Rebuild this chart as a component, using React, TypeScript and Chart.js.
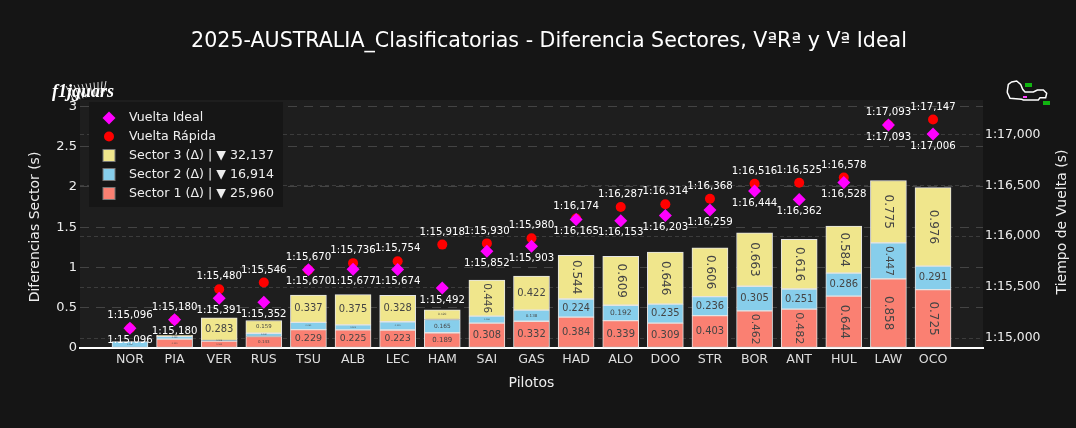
import React, { useEffect, useRef } from "react";
import { Chart, registerables } from "chart.js";

Chart.register(...registerables);

const pilots = ["NOR", "PIA", "VER", "RUS", "TSU", "ALB", "LEC", "HAM", "SAI", "GAS", "HAD", "ALO", "DOO", "STR", "BOR", "ANT", "HUL", "LAW", "OCO"];
const sector1 = [0, 0.11, 0.085, 0.143, 0.229, 0.225, 0.223, 0.189, 0.308, 0.332, 0.384, 0.339, 0.309, 0.403, 0.462, 0.482, 0.644, 0.858, 0.725];
const sector2 = [0.08, 0.035, 0.008, 0.04, 0.09, 0.062, 0.103, 0.165, 0.088, 0.138, 0.224, 0.192, 0.235, 0.236, 0.305, 0.251, 0.286, 0.447, 0.291];
const sector3 = [0, 0.012, 0.283, 0.159, 0.337, 0.375, 0.328, 0.12, 0.446, 0.422, 0.544, 0.609, 0.646, 0.606, 0.663, 0.616, 0.584, 0.775, 0.976];
const fastLap = [75.096, 75.18, 75.48, 75.546, 75.67, 75.736, 75.754, 75.918, 75.93, 75.98, 76.174, 76.287, 76.314, 76.368, 76.516, 76.525, 76.578, 77.093, 77.147];
const idealLap = [75.096, 75.18, 75.391, 75.352, 75.67, 75.677, 75.674, 75.492, 75.852, 75.903, 76.165, 76.153, 76.203, 76.259, 76.444, 76.362, 76.528, 77.093, 77.006];
const deltaTicks = [0, 0.5, 1, 1.5, 2, 2.5, 3];
const lapTicks = [75, 75.5, 76, 76.5, 77];
const legendNames = ["Vuelta Ideal", "Vuelta Rápida", "Sector 3 (Δ) | ▼ 32,137", "Sector 2 (Δ) | ▼ 16,914", "Sector 1 (Δ) | ▼ 25,960"];
const chartTitle = "2025-AUSTRALIA_Clasificatorias - Diferencia Sectores, VªRª y Vª Ideal";

const FONT = "'DejaVu Sans', sans-serif";
const fmtLap = (v: number) => {
  const ms = Math.round(v * 1000);
  const m = Math.floor(ms / 60000);
  const s = Math.floor((ms % 60000) / 1000);
  const r = ms % 1000;
  return `${m}:${String(s).padStart(2, "0")},${String(r).padStart(3, "0")}`;
};

const trackPath = [[22, 45], [25, 25], [35, 18], [50, 15], [62, 25], [68, 40], [75, 48], [100, 48], [112, 42], [130, 42], [140, 52], [137, 65], [120, 65], [115, 72], [90, 72], [70, 72], [65, 70], [30, 67], [22, 50], [22, 45]];

const decorPlugin = {
  id: "decor",
  beforeDraw(chart: any) {
    const { ctx, chartArea: a, width, height } = chart;
    ctx.save();
    ctx.fillStyle = "#151515";
    ctx.fillRect(0, 0, width, height);
    ctx.fillStyle = "#1e1e1e";
    ctx.fillRect(a.left, a.top, a.right - a.left, a.bottom - a.top);

    // title
    ctx.fillStyle = "#ffffff";
    ctx.font = `20.6px ${FONT}`;
    ctx.textAlign = "center";
    ctx.textBaseline = "middle";
    ctx.fillText(chartTitle, 549, 42);

    // axis titles
    ctx.font = `14px ${FONT}`;
    ctx.fillStyle = "#eeeeee";
    ctx.save();
    ctx.translate(1062, 222);
    ctx.rotate(-Math.PI / 2);
    ctx.fillText("Tiempo de Vuelta (s)", 0, 0);
    ctx.restore();
    ctx.save();
    ctx.translate(35, 227);
    ctx.rotate(-Math.PI / 2);
    ctx.fillText("Diferencias Sector (s)", 0, 0);
    ctx.restore();

    // left logo
    ctx.strokeStyle = "#dddddd";
    ctx.lineWidth = 1;
    for (let i = 0; i < 11; i++) {
      ctx.beginPath();
      ctx.moveTo(74 + i * 3, 101 - i * 0.9);
      ctx.lineTo(66 + i * 4, 86 - i * 0.5);
      ctx.stroke();
    }
    ctx.fillStyle = "#ffffff";
    ctx.font = `italic bold 18px 'Liberation Serif', serif`;
    ctx.textAlign = "left";
    ctx.fillText("f1jguars", 52, 92, 75);

    // track logo
    ctx.strokeStyle = "#ffffff";
    ctx.lineWidth = 1.5;
    ctx.beginPath();
    trackPath.forEach(([x, y], i) => {
      const px = 1000 + x / 3;
      const py = 76 + y / 3;
      if (i) ctx.lineTo(px, py);
      else ctx.moveTo(px, py);
    });
    ctx.stroke();
    ctx.fillStyle = "#11b511";
    ctx.fillRect(1025, 83, 7, 4);
    ctx.fillRect(1043, 101, 7, 4);
    ctx.fillStyle = "#ff44ff";
    ctx.fillRect(1023, 96, 4, 2);
    ctx.restore();
  },
  afterDatasetsDraw(chart: any) {
    const { ctx } = chart;
    ctx.save();
    ctx.textAlign = "center";
    ctx.textBaseline = "middle";

    // bar labels, fitted to the bar in the same way as the reference
    [0, 1, 2].forEach((dsIndex) => {
      const ds = chart.data.datasets[dsIndex];
      chart.getDatasetMeta(dsIndex).data.forEach((bar: any, i: number) => {
        const v = ds.data[i].y;
        if (!v) return;
        const label = v.toFixed(3);
        const h = Math.abs(bar.base - bar.y);
        ctx.font = `12px ${FONT}`;
        const tw = ctx.measureText(label).width;
        const th = 15;
        const availW = 28.5;
        const availH = Math.max(h - 6, 1);
        const sH = Math.min(1, availW / tw, availH / th);
        const sR = Math.min(1, availH / tw, availW / th);
        const rotated = sR > sH;
        const size = Math.max(12 * (rotated ? sR : sH), 2);
        ctx.save();
        ctx.translate(bar.x, (bar.base + bar.y) / 2);
        if (rotated) ctx.rotate(Math.PI / 2);
        ctx.font = `${size}px ${FONT}`;
        ctx.fillStyle = "#444444";
        ctx.fillText(label, 0, 0);
        ctx.restore();
      });
    });

    // lap labels
    ctx.font = `10.2px ${FONT}`;
    ctx.fillStyle = "#ffffff";
    [
      { idx: 3, dy: 12 },
      { idx: 4, dy: -12.5 },
    ].forEach(({ idx, dy }) => {
      const ds = chart.data.datasets[idx];
      chart.getDatasetMeta(idx).data.forEach((pt: any, i: number) => {
        ctx.fillText(fmtLap(ds.data[i].y), pt.x, pt.y + dy);
      });
    });

    // legend
    ctx.fillStyle = "#161616";
    ctx.fillRect(89, 102, 194, 105);
    const rows = [118, 136.5, 155.5, 174.5, 193.5];
    const byLegend = [3, 4, 2, 1, 0];
    rows.forEach((y, r) => {
      const ds = chart.data.datasets[byLegend[r]];
      const x = 109;
      ctx.fillStyle = ds.backgroundColor;
      if (r === 0) {
        ctx.beginPath();
        ctx.moveTo(x, y - 6.5);
        ctx.lineTo(x + 6.5, y);
        ctx.lineTo(x, y + 6.5);
        ctx.lineTo(x - 6.5, y);
        ctx.closePath();
        ctx.fill();
      } else if (r === 1) {
        ctx.beginPath();
        ctx.arc(x, y, 5, 0, Math.PI * 2);
        ctx.fill();
      } else {
        ctx.fillRect(x - 6, y - 6, 12, 12);
        ctx.strokeStyle = "#777777";
        ctx.lineWidth = 1;
        ctx.strokeRect(x - 6, y - 6, 12, 12);
      }
      ctx.fillStyle = "#eeeeee";
      ctx.textAlign = "left";
      ctx.font = `12.6px ${FONT}`;
      ctx.fillText(ds.label, 129, y);
    });
    ctx.restore();
  },
};

export default function App() {
  const ref = useRef<HTMLCanvasElement | null>(null);
  useEffect(() => {
    document.body.style.margin = "0";
    document.body.style.background = "#151515";
    const toPts = (arr: number[]) => arr.map((y, x) => ({ x, y }));
    const barBase = {
      type: "bar",
      yAxisID: "y",
      xAxisID: "x",
      stack: "s",
      barThickness: 36,
      borderColor: "#e4e4e4",
      borderWidth: 1,
      borderSkipped: false,
      order: 5,
    };
    const chart = new Chart(ref.current as HTMLCanvasElement, {
      type: "bar",
      plugins: [decorPlugin],
      data: {
        datasets: [
          { ...barBase, label: legendNames[4], data: toPts(sector1), backgroundColor: "#fa8072" },
          { ...barBase, label: legendNames[3], data: toPts(sector2), backgroundColor: "#87ceeb" },
          { ...barBase, label: legendNames[2], data: toPts(sector3), backgroundColor: "#f0e68c" },
          {
            type: "line", label: legendNames[0], data: toPts(idealLap), yAxisID: "y2", xAxisID: "x", showLine: false,
            backgroundColor: "#ff00ff", borderColor: "#ff00ff", pointStyle: "rectRot", pointRadius: 6.5, pointBorderWidth: 0, order: 1,
          },
          {
            type: "line", label: legendNames[1], data: toPts(fastLap), yAxisID: "y2", xAxisID: "x", showLine: false,
            backgroundColor: "#ff0000", borderColor: "#ff0000", pointStyle: "circle", pointRadius: 5, pointBorderWidth: 0, order: 2,
          },
        ] as any,
      },
      options: {
        responsive: false,
        animation: false,
        devicePixelRatio: 1,
        layout: { padding: { top: 100, left: 0, right: 0, bottom: 0 } },
        plugins: { legend: { display: false }, title: { display: false }, tooltip: { enabled: false } },
        scales: {
          x: {
            type: "linear",
            stacked: true,
            offset: false,
            min: -1.12,
            max: 19.12,
            afterBuildTicks: (s: any) => { s.ticks = pilots.map((_, i) => ({ value: i })); },
            afterFit: (s: any) => { s.height = 80; },
            grid: { display: false, drawTicks: false },
            border: { display: true, color: "#ffffff", width: 2 },
            ticks: {
              autoSkip: false, maxRotation: 0, padding: 4,
              color: "#dddddd", font: { family: FONT, size: 12.6 },
              callback: (v: any) => pilots[v],
            },
            title: { display: true, text: "Pilotos", color: "#eeeeee", font: { family: FONT, size: 14 }, padding: { top: 0, bottom: 36 } },
          },
          y: {
            position: "left",
            stacked: true,
            min: 0,
            max: 3.08,
            afterBuildTicks: (s: any) => { s.ticks = deltaTicks.map((value) => ({ value })); },
            afterFit: (s: any) => { s.width = 80; },
            grid: { color: "#444444", lineWidth: 1, drawTicks: false },
            border: { display: false, dash: [9, 7] },
            ticks: { color: "#eeeeee", padding: 3, font: { family: FONT, size: 13 }, callback: (v: any) => String(v) },
          },
          y2: {
            position: "right",
            min: 74.902,
            max: 77.339,
            afterBuildTicks: (s: any) => { s.ticks = lapTicks.map((value) => ({ value })); },
            afterFit: (s: any) => { s.width = 93; },
            grid: { color: "#3c3c3c", lineWidth: 1, drawTicks: false },
            border: { display: false, dash: [4, 3] },
            ticks: { color: "#eeeeee", padding: 2, font: { family: FONT, size: 12.4 }, callback: (v: any) => fmtLap(v) },
          },
        },
      } as any,
    });
    return () => chart.destroy();
  }, []);
  return <canvas ref={ref} width={1076} height={428} style={{ display: "block", width: 1076, height: 428 }} />;
}
